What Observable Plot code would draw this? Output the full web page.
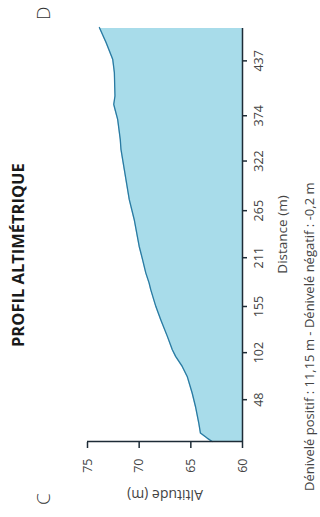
<!DOCTYPE html>
<html>
<head>
<meta charset="utf-8">
<script src="https://cdn.jsdelivr.net/npm/d3@7"></script>
<script src="https://cdn.jsdelivr.net/npm/@observablehq/plot@0.6"></script>
<style>
  html, body { margin: 0; padding: 0; background: #fff; overflow: hidden; }
  body { width: 320px; height: 517px; position: relative; }
  #wrap {
    position: absolute; left: 0; top: 0; width: 517px; height: 320px;
    transform-origin: 0 0; transform: translateY(517px) rotate(-90deg);
    font-family: "Open Sans", sans-serif; color: #333;
  }
  #wrap svg { position: absolute; left: 0; top: 0; }
  .title { position: absolute; left: 170px; top: 8px; font-size: 16.5px; font-weight: 700; color: #1a1a1a; white-space: nowrap; line-height: 20px; }
  .corner { position: absolute; top: 31px; font-size: 19px; font-weight: 300; color: #333; line-height: 24px; }
  .foot { position: absolute; left: 26px; top: 300px; font-size: 13px; color: #444; white-space: nowrap; line-height: 18px; }
  .alab { letter-spacing: 1px; }
</style>
</head>
<body>
<div id="wrap">
  <div class="title">PROFIL ALTIMÉTRIQUE</div>
  <div class="corner" style="left:12px">C</div>
  <div class="corner" style="left:497px">D</div>
  <div class="foot">Dénivelé positif : 11,15 m - Dénivelé négatif : -0,2 m</div>
</div>
<script>
const distance = [0, 3.9, 9.7, 21.2, 40.2, 55.7, 74.7, 86.2, 97.7, 105.4, 120.7, 139.9, 155.2, 174.4, 182.1, 193.6, 208.9, 224.2, 254.9, 277.9, 312.4, 335.4, 346.9, 369.9, 381.4, 387.1, 396.7, 423.6, 438.9, 458.1, 475.3];
const altitude = [62.94, 63.42, 64.07, 64.23, 64.55, 64.87, 65.35, 65.83, 66.47, 66.79, 67.27, 67.91, 68.39, 68.88, 69.04, 69.36, 69.67, 70.0, 70.48, 70.96, 71.44, 71.76, 71.83, 72.08, 72.34, 72.46, 72.34, 72.4, 72.56, 73.2, 73.85];
const distanceTicks = [48, 102, 155, 211, 265, 322, 374, 437];
const altitudeTicks = [60, 65, 70, 75];

const data = distance.map((d, i) => ({d, a: altitude[i]}));
const axisColor = "#1d2b36";

const chart = Plot.plot({
  width: 517,
  height: 320,
  marginLeft: 75,
  marginRight: 28,
  marginTop: 87,
  marginBottom: 78,
  style: {fontFamily: "Open Sans, sans-serif", fontSize: "12px", color: "#444", background: "transparent"},
  x: {domain: [0, 475.3]},
  y: {domain: [60, 75]},
  marks: [
    Plot.areaY(data, {x: "d", y1: 60, y2: "a", fill: "#a8dcea"}),
    Plot.lineY(data, {x: "d", y: "a", stroke: "#2a7aa2", strokeWidth: 1.3}),
    Plot.ruleX([0], {stroke: axisColor, strokeWidth: 1.5}),
    Plot.ruleY([60], {stroke: axisColor, strokeWidth: 1.5}),
    Plot.axisX({ticks: distanceTicks, tickSize: 5, tickPadding: 7, stroke: axisColor, strokeWidth: 1.5,
      label: null, fontSize: 12.5}),
    Plot.axisX({ticks: [], label: "Distance (m)", labelAnchor: "center", labelArrow: "none", labelOffset: 44, fontSize: 13.5}),
    Plot.axisY({ticks: altitudeTicks, tickSize: 6, tickPadding: 11, stroke: axisColor, strokeWidth: 1.5,
      label: null, fontSize: 12.5}),
    Plot.axisY({ticks: [], label: "Altitude (m)", labelAnchor: "center", labelArrow: "none", labelOffset: 58, fontSize: 14, className: "alab"})
  ]
});
document.getElementById("wrap").prepend(chart);
</script>
</body>
</html>
